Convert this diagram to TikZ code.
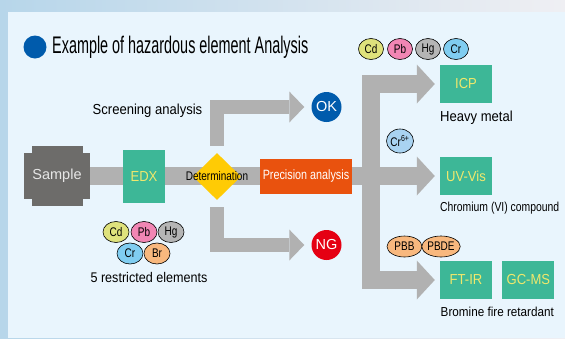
\documentclass[tikz,border=0pt]{standalone}
\usepackage{fontspec}
\setmainfont{Liberation Sans}
\newfontfamily\cnda[FakeStretch=0.6]{Liberation Sans}
\newfontfamily\cndb[FakeStretch=0.8]{Liberation Sans}
\newfontfamily\cndc[FakeStretch=0.9]{Liberation Sans}
\usetikzlibrary{arrows.meta,shapes.geometric,backgrounds,positioning}
\definecolor{outerl}{HTML}{B7D6EA}
\definecolor{outerr}{HTML}{EFEFF3}
\definecolor{panel}{HTML}{E9F5FD}
\definecolor{bargray}{HTML}{B1B1B1}
\definecolor{samplegray}{HTML}{6D6C6A}
\definecolor{sampletext}{HTML}{E6E6E6}
\definecolor{boxgreen}{HTML}{3DB797}
\definecolor{boxtext}{HTML}{F0E86C}
\definecolor{detyellow}{HTML}{FFCB05}
\definecolor{precorange}{HTML}{E9520E}
\definecolor{flagblue}{HTML}{005BAC}
\definecolor{ngred}{HTML}{E50013}
\definecolor{cdyellow}{HTML}{DFE27C}
\definecolor{pbpink}{HTML}{F186B4}
\definecolor{hggray}{HTML}{B5B5B5}
\definecolor{crblue}{HTML}{80CDF1}
\definecolor{crlight}{HTML}{A9D3F1}
\definecolor{brorange}{HTML}{F8B87E}
\tikzset{
  box/.style={rectangle, fill=boxgreen, text=boxtext, minimum width=52pt, minimum height=38pt, inner sep=0pt, font=\cndc\fontsize{14.5}{15}\selectfont},
  elem/.style={ellipse, draw=black, line width=0.6pt, minimum width=25pt, minimum height=21pt, inner sep=0pt, font=\cndb\fontsize{12.5}{13}\selectfont},
  flag/.style={circle, minimum size=30pt, inner sep=0pt, text=white, font=\fontsize{14.5}{15}\selectfont},
  note/.style={inner sep=0pt, font=\cndc\fontsize{14.5}{15}\selectfont},
  bar/.style={draw=bargray, line width=18pt},
  fatarrow/.style={bar, -{Triangle[length=18pt,width=39pt,line width=0pt]}},
  thinarrow/.style={draw=bargray, line width=14pt, -{Triangle[length=15pt,width=31pt,line width=0pt]}}
}
\begin{document}
\begin{tikzpicture}[x=1pt,y=-1pt]
\useasboundingbox (0,0) rectangle (565,338);
\node[circle, fill=flagblue, minimum size=23pt, inner sep=0pt] (dot) at (35,47) {};
\node[anchor=west, inner sep=0pt, font=\cnda\fontsize{24}{26}\selectfont] (title) at (52,46.8) {Example of hazardous element Analysis};
\fill[samplegray] (32,146) rectangle (83,206);
\node[fill=samplegray, minimum width=66pt, minimum height=46pt, inner sep=0pt, text=sampletext, font=\fontsize{14.5}{15}\selectfont] (sample) at (57,176) {Sample};
\node[box, minimum width=42pt, minimum height=53pt] (edx) at (144,176.5) {EDX};
\node[diamond, fill=detyellow, minimum width=48pt, minimum height=47pt, inner sep=0pt] (det) at (217,176.5) {};
\node[inner sep=0pt, font=\cndb\fontsize{12.5}{13}\selectfont] (dettext) at (det) {Determination};
\node[fill=precorange, text=white, minimum width=92pt, minimum height=35pt, inner sep=0pt, font=\cndb\fontsize{13.5}{14}\selectfont] (prec) at (306,176) {Precision analysis};
\node[note] (screen) at (147.5,111) {Screening analysis};
\node[flag, fill=flagblue] (ok) at (326.5,107) {OK};
\node[flag, fill=ngred] (ng) at (326.5,245) {NG};
\node[box] (icp) at (466,84) {ICP};
\node[box] (uv) at (466,176) {UV-Vis};
\node[box] (ftir) at (466,280) {FT-IR};
\node[box, right=10pt of ftir] (gcms) {GC-MS};
\node[note, anchor=west] (heavy) at (440,118) {Heavy metal};
\node[note, anchor=west, font=\cndb\fontsize{13}{14}\selectfont] (chrom) at (440,208) {Chromium (VI) compound};
\node[note, anchor=west, font=\cndc\fontsize{13}{14}\selectfont] (brom) at (440.5,312) {Bromine fire retardant};
\node[note, font=\cndc\fontsize{14}{15}\selectfont] (five) at (149,277) {5 restricted elements};
\foreach \el/\col/\x in {Cd/cdyellow/371, Pb/pbpink/400, Hg/hggray/428, Cr/crblue/456}
  \node[elem, fill=\col] (top\el) at (\x,49) {\el};
\foreach \el/\col/\x/\y in {Cd/cdyellow/116/232, Pb/pbpink/144/232, Hg/hggray/171/232, Cr/crblue/130/253.5, Br/brorange/157/253.5}
  \node[elem, fill=\col, minimum width=26pt] (five\el) at (\x,\y) {\el};
\node[elem, fill=crlight, minimum width=27pt, minimum height=24pt] (crsix) at (400,141) {Cr\textsuperscript{6+}};
\node[elem, fill=brorange, minimum width=35pt] (pbb) at (404.5,246.5) {PBB};
\node[elem, fill=brorange, minimum width=35pt] (pbde) at (441,246.5) {PBDE};
\begin{scope}[on background layer]
\fill[left color=outerl, right color=outerr] (0,0) rectangle (565,338);
\fill[panel] (8,12) rectangle (565,338);
\draw[bar] (sample) -- (prec);
\draw[thinarrow, shorten >=7pt] ([yshift=7pt]det.north) |- (ok.west);
\draw[thinarrow, shorten >=7pt] ([yshift=-7pt]det.south) |- (ng.west);
\draw[fatarrow, shorten >=5pt] (prec.east) -- (uv.west);
\coordinate (fork) at (370.5,176);
\draw[fatarrow, shorten >=5pt] (fork) |- (icp.west);
\draw[fatarrow, shorten >=5pt] (fork) |- (ftir.west);
\end{scope}
\end{tikzpicture}
\end{document}
